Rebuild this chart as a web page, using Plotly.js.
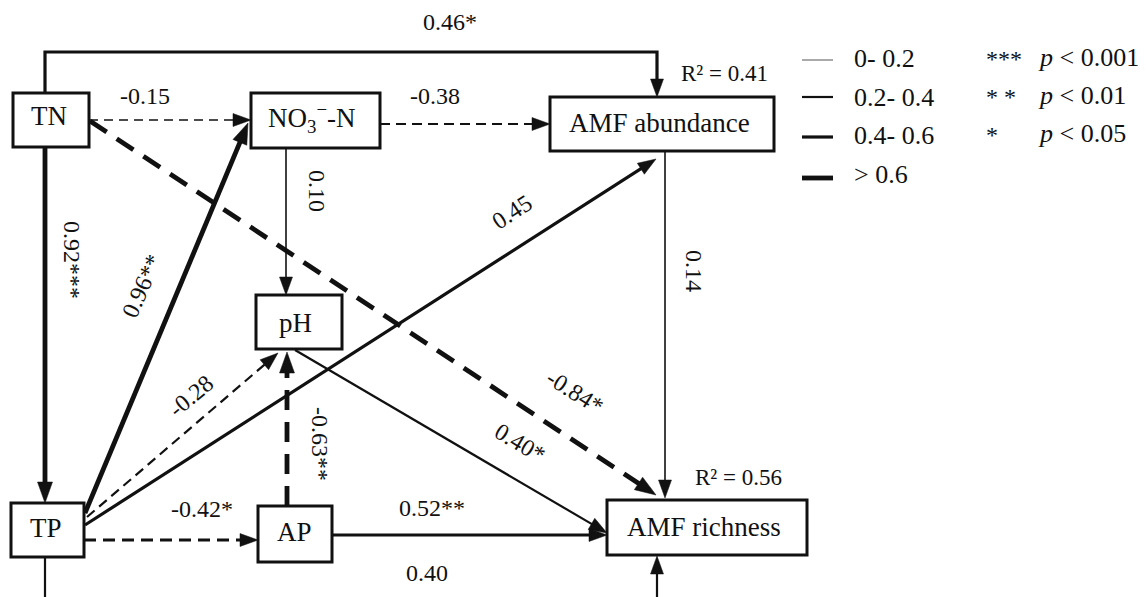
<!DOCTYPE html>
<html><head><meta charset="utf-8">
<script src="https://cdn.plot.ly/plotly-3.0.1.min.js"></script>
<style>html,body{margin:0;padding:0;background:#fff;}#chart{width:1148px;height:597px;}</style>
</head><body><div id="chart"></div>
<script>
// ---------------- data ----------------
const nodeKeys   = ['TN', 'NO3', 'ABUND', 'PH', 'TP', 'AP', 'RICH'];
const nodeLabels = ['TN', 'NO<sub>3</sub><sup>−</sup>-N', 'AMF abundance', 'pH', 'TP', 'AP', 'AMF richness'];

const pathFrom  = ['TN', 'TN', 'NO3', 'TN', 'TN', 'NO3', 'TP', 'TP', 'TP', 'PH', 'AP', 'TP', 'AP', 'ABUND', 'TP'];
const pathTo    = ['ABUND', 'NO3', 'ABUND', 'TP', 'RICH', 'PH', 'NO3', 'PH', 'ABUND', 'RICH', 'PH', 'AP', 'RICH', 'RICH', 'RICH'];
const pathCoef  = [0.46, -0.15, -0.38, 0.92, -0.84, 0.10, 0.96, -0.28, 0.45, 0.40, -0.63, -0.42, 0.52, 0.14, 0.40];
const pathStars = ['*', '', '', '***', '*', '', '**', '', '', '*', '**', '*', '**', '', ''];

const r2Nodes  = ['ABUND', 'RICH'];
const r2Values = [0.41, 0.56];

const widthBinLabels = ['0- 0.2', '0.2- 0.4', '0.4- 0.6', '> 0.6'];
const widthBinUpper  = [0.2, 0.4, 0.6, Infinity];
const sigMarks  = ['***', '* *', '*'];
const sigLabels = ['<i>p</i> &lt; 0.001', '<i>p</i> &lt; 0.01', '<i>p</i> &lt; 0.05'];

// ---------------- layout geometry (positions / styles) ----------------
const W = 1148, H = 597;
const FONT = '"Liberation Serif", "Times New Roman", serif';
const INK = '#111111';
const boxes = {
  TN: [13, 93, 89, 147], NO3: [251, 93, 380, 148], ABUND: [550, 97, 774, 151],
  PH: [256, 295, 342, 349], TP: [11, 503, 84, 557], AP: [258, 506, 332, 562], RICH: [607, 500, 807, 555]
};
const textNudge = { TN: [-2, -4], NO3: [-4, -3], ABUND: [-3, -1], PH: [-4, 1], TP: [-2, -2], AP: [-1, -2], RICH: [-3, -1] };
const routes = [
  [[45, 93], [45, 52], [657, 52], [657, 97]],
  [[89, 120], [251, 120]],
  [[380, 124], [550, 124]],
  [[45, 147], [45, 503]],
  [[90, 121], [656, 495]],
  [[286, 148], [286, 295]],
  [[85, 513], [248, 123]],
  [[87, 517], [278, 353]],
  [[85, 525], [656, 159]],
  [[295, 350], [607, 533]],
  [[287, 506], [287, 352]],
  [[84, 540], [258, 540]],
  [[332, 535], [607, 535]],
  [[665, 151], [665, 498]],
  [[45, 557], [45, 640], [657, 640], [657, 556]]
];
const labelPos = [
  [450, 22, 0], [145, 96, 0], [435, 96, 0], [72, 260, 90], [575, 392, 32],
  [317, 191, 90], [142, 286, -66], [191, 396, -40], [512, 212, -33], [520, 443, 31],
  [320, 444, 90], [202, 509, 0], [432, 508, 0], [694, 271, 90], [427, 573, 0]
];
const r2Pos = [[724, 73], [738, 477]];
const binWidths = [1.6, 2.2, 3.2, 4.8];
const binDash = ['9px,6px', '10px,6px', '12px,7px', '20px,12px'];
const legendLineX = [802, 833], legendY = [60, 97, 137, 178], legendTextY = [58, 97, 135, 174];
const sigY = [57, 95, 133];

// ---------------- build ----------------
const shapes = [], annotations = [];
function binOf(v) { const a = Math.abs(v); for (let i = 0; i < widthBinUpper.length; i++) if (a <= widthBinUpper[i] + 1e-9) return i; return 3; }

// boxes
nodeKeys.forEach((k, i) => {
  const b = boxes[k];
  shapes.push({ type: 'rect', xref: 'x', yref: 'y', x0: b[0], y0: b[1], x1: b[2], y1: b[3],
    line: { color: INK, width: 3 }, fillcolor: 'white', layer: 'above' });
  const n = textNudge[k] || [0, 0];
  annotations.push({ xref: 'x', yref: 'y', x: (b[0] + b[2]) / 2 + n[0], y: (b[1] + b[3]) / 2 + n[1],
    text: nodeLabels[i], showarrow: false, xanchor: 'center', yanchor: 'middle',
    font: { family: FONT, size: 27, color: INK } });
});

// paths
pathCoef.forEach((c, i) => {
  const bin = binOf(c);
  const w = binWidths[bin];
  const pts = routes[i].map(p => p.slice());
  const tip = pts[pts.length - 1], prev = pts[pts.length - 2];
  const dx = tip[0] - prev[0], dy = tip[1] - prev[1], len = Math.hypot(dx, dy);
  const ux = dx / len, uy = dy / len;
  const L = bin === 3 ? 21 : 18, HW = bin === 3 ? 7.5 : 6.5;
  const base = [tip[0] - ux * L, tip[1] - uy * L];
  pts[pts.length - 1] = [tip[0] - ux * (L - 3), tip[1] - uy * (L - 3)];
  const d = 'M ' + pts.map(p => p[0] + ' ' + p[1]).join(' L ');
  shapes.push({ type: 'path', xref: 'x', yref: 'y', path: d,
    line: { color: INK, width: w, dash: c < 0 ? binDash[bin] : 'solid' }, layer: 'above' });
  const px = -uy, py = ux;
  shapes.push({ type: 'path', xref: 'x', yref: 'y',
    path: `M ${tip[0]} ${tip[1]} L ${base[0] + px * HW} ${base[1] + py * HW} L ${base[0] - px * HW} ${base[1] - py * HW} Z`,
    fillcolor: INK, line: { color: INK, width: 0.5 }, layer: 'above' });
  const lp = labelPos[i];
  annotations.push({ xref: 'x', yref: 'y', x: lp[0], y: lp[1], textangle: lp[2],
    text: c.toFixed(2) + pathStars[i], showarrow: false, xanchor: 'center', yanchor: 'middle',
    font: { family: FONT, size: 24, color: INK } });
});

// R2
r2Nodes.forEach((k, i) => {
  annotations.push({ xref: 'x', yref: 'y', x: r2Pos[i][0], y: r2Pos[i][1],
    text: 'R\u00B2 = ' + r2Values[i].toFixed(2), showarrow: false, xanchor: 'center', yanchor: 'middle',
    font: { family: FONT, size: 23, color: INK } });
});

// legend: line widths
widthBinLabels.forEach((lab, i) => {
  shapes.push({ type: 'line', xref: 'x', yref: 'y', x0: legendLineX[0], x1: legendLineX[1], y0: legendY[i], y1: legendY[i],
    line: { color: i === 0 ? '#555' : INK, width: i === 0 ? 1 : binWidths[i] } });
  annotations.push({ xref: 'x', yref: 'y', x: 852, y: legendTextY[i], text: lab, showarrow: false,
    xanchor: 'left', yanchor: 'middle', font: { family: FONT, size: 26, color: INK } });
});
// legend: significance
sigMarks.forEach((m, i) => {
  annotations.push({ xref: 'x', yref: 'y', x: 984, y: sigY[i] + 2, text: m, showarrow: false,
    xanchor: 'left', yanchor: 'middle', font: { family: FONT, size: 24, color: INK } });
  annotations.push({ xref: 'x', yref: 'y', x: 1036, y: sigY[i], text: sigLabels[i], showarrow: false,
    xanchor: 'left', yanchor: 'middle', font: { family: FONT, size: 26, color: INK } });
});

Plotly.newPlot('chart', [{ x: [], y: [], type: 'scatter', mode: 'markers', hoverinfo: 'skip', showlegend: false }], {
  width: W, height: H, autosize: false,
  margin: { l: 0, r: 0, t: 0, b: 0, pad: 0 },
  paper_bgcolor: 'white', plot_bgcolor: 'white',
  showlegend: false,
  xaxis: { range: [0, W], visible: false, fixedrange: true },
  yaxis: { range: [H, 0], visible: false, fixedrange: true },
  shapes: shapes, annotations: annotations
}, { displayModeBar: false, staticPlot: true });
</script></body></html>
